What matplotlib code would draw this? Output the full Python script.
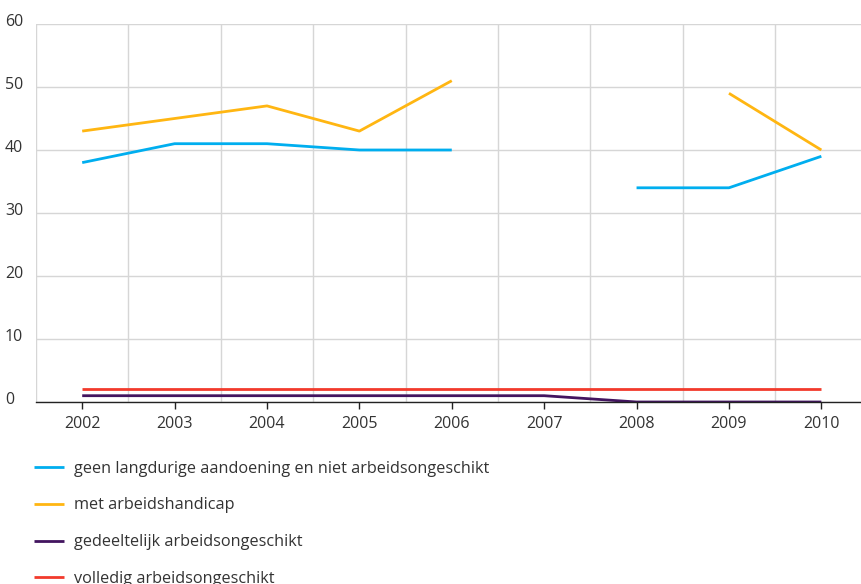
import numpy as np
import matplotlib.pyplot as plt
from matplotlib.transforms import ScaledTranslation

plt.rcParams['font.family'] = ['Open Sans', 'DejaVu Sans']

# data
years = [2002, 2003, 2004, 2005, 2006, 2007, 2008, 2009, 2010]
geen = [38, 41, 41, 40, 40, np.nan, 34, 34, 39]
handicap = [43, 45, 47, 43, 51, np.nan, np.nan, 49, 40]
gedeeltelijk = [1, 1, 1, 1, 1, 1, 0, 0, 0]
volledig = [2, 2, 2, 2, 2, 2, 2, 2, 2]

labels = ['geen langdurige aandoening en niet arbeidsongeschikt',
          'met arbeidshandicap',
          'gedeeltelijk arbeidsongeschikt',
          'volledig arbeidsongeschikt']
colors = ['#00aeef', '#ffb612', '#42145f', '#f23a2c']

fig = plt.figure(figsize=(8.62, 5.84), dpi=100)
ax = fig.add_axes([36 / 862, 182 / 584, 1 - 36 / 862, 378 / 584])

for vals, lab, col in zip([geen, handicap, gedeeltelijk, volledig], labels, colors):
    ax.plot(years, vals, color=col, lw=2.0, label=lab, solid_capstyle='butt')

ax.set_xlim(2001.5, 2010.44)
ax.set_ylim(0, 60)
ax.set_xticks(years)
ax.set_xticks(np.arange(2001.5, 2010.5, 1), minor=True)
ax.set_yticks(range(0, 61, 10))

ax.grid(True, which='minor', axis='x', color='#d6d6d6', lw=1.0)
ax.grid(True, which='major', axis='y', color='#d6d6d6', lw=1.0)
ax.set_axisbelow(True)

for s in ['top', 'right', 'left']:
    ax.spines[s].set_visible(False)
ax.spines['bottom'].set_color('#222222')
ax.spines['bottom'].set_linewidth(1.0)

ax.tick_params(axis='x', which='major', length=5, width=1, color='#222222',
               labelsize=11.5, labelcolor='#333333', pad=5)
ax.tick_params(axis='x', which='minor', length=0)
ax.tick_params(axis='y', length=0, labelsize=11.5, labelcolor='#333333', pad=0)
off = ScaledTranslation(-31 / 100, 4 / 100, fig.dpi_scale_trans)
for t in ax.get_yticklabels():
    t.set_horizontalalignment('left')
    t.set_transform(t.get_transform() + off)

fig.legend(loc='upper left', bbox_to_anchor=(19 / 862, 1 - 446 / 584),
           frameon=False, fontsize=11.7, handlelength=1.85, handletextpad=0.62,
           labelspacing=1.28, labelcolor='#333333')

fig.savefig('out.png', dpi=100)
